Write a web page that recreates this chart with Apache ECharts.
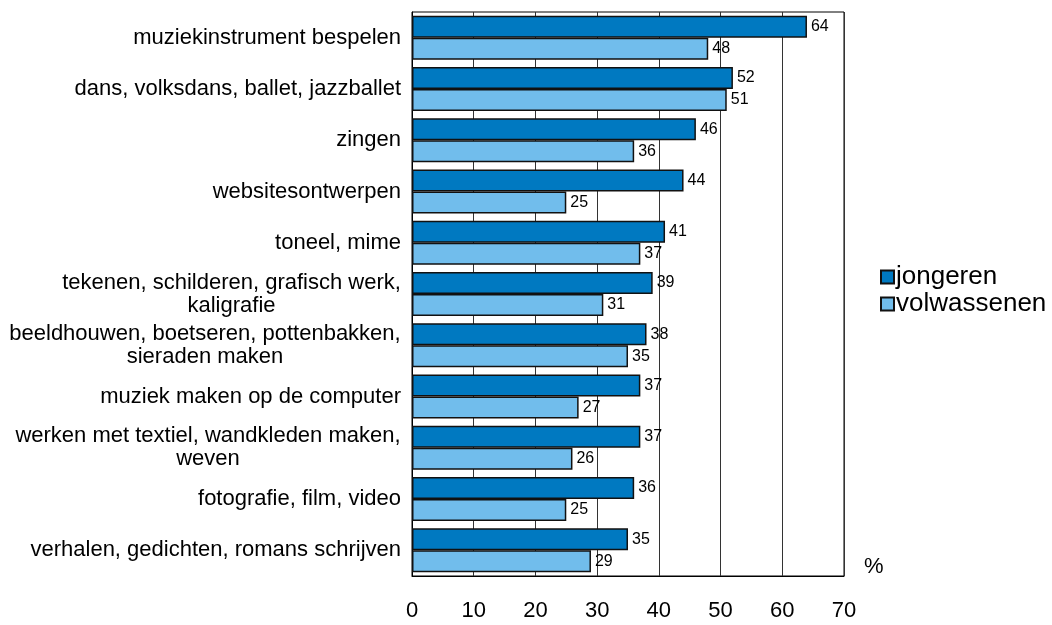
<!DOCTYPE html>
<html>
<head>
<meta charset="utf-8">
<script src="https://cdn.jsdelivr.net/npm/echarts@6/dist/echarts.min.js"></script>
<style>
  html, body { margin: 0; padding: 0; background: #fff; }
  #chart { width: 1052px; height: 625px; }
</style>
</head>
<body>
<div id="chart"></div>
<script>
// Activities, top to bottom
const categories = [
  'muziekinstrument bespelen',
  'dans, volksdans, ballet, jazzballet',
  'zingen',
  'websitesontwerpen',
  'toneel, mime',
  'tekenen, schilderen, grafisch werk,\nkaligrafie',
  'beeldhouwen, boetseren, pottenbakken,\nsieraden maken',
  'muziek maken op de computer',
  'werken met textiel, wandkleden maken,\nweven',
  'fotografie, film, video',
  'verhalen, gedichten, romans schrijven'
];
const seriesNames = ['jongeren', 'volwassenen'];
const jongeren = [64, 52, 46, 44, 41, 39, 38, 37, 37, 36, 35];
const volwassenen = [48, 51, 36, 25, 37, 31, 35, 27, 26, 25, 29];
const xTicks = [0, 10, 20, 30, 40, 50, 60, 70];

const FONT = '"Liberation Sans", Arial, sans-serif';
const LABEL_SIZE = 22;
const DARK = '#0079C1';
const LIGHT = '#71BDEC';

// Two-line category labels: every line gets the width of the widest line
// and is centred inside it, so the block stays right-aligned at the axis.
const measureCtx = document.createElement('canvas').getContext('2d');
measureCtx.font = LABEL_SIZE + 'px ' + FONT;
const labelRich = {};
const labelText = {};
categories.forEach(function (cat, i) {
  const lines = cat.split('\n');
  if (lines.length < 2) { labelText[cat] = cat; return; }
  const w = Math.ceil(Math.max.apply(null, lines.map(function (l) { return measureCtx.measureText(l).width; })));
  const key = 'c' + i;
  labelRich[key] = { width: w, align: 'center', fontFamily: FONT, fontSize: LABEL_SIZE, lineHeight: 23, color: '#000' };
  labelText[cat] = lines.map(function (l) { return '{' + key + '|' + l + '}'; }).join('\n');
});

const chart = echarts.init(document.getElementById('chart'), null, { renderer: 'canvas' });

function barSeries(name, values, color) {
  return {
    name: name,
    type: 'bar',
    data: values,
    barWidth: 22,
    barGap: '0%',
    itemStyle: { color: color, borderColor: '#111', borderWidth: 1.5 },
    label: {
      show: true,
      position: 'right',
      distance: 4,
      color: '#000',
      fontFamily: FONT,
      fontSize: 16
    }
  };
}

chart.setOption({
  animation: false,
  backgroundColor: '#fff',
  grid: {
    left: 412, top: 12, width: 432, height: 564,
    show: true, borderColor: '#000', borderWidth: 1, backgroundColor: 'transparent'
  },
  legend: {
    data: seriesNames,
    orient: 'vertical',
    left: 875,
    top: 259,
    itemWidth: 13,
    itemHeight: 13,
    itemGap: 1,
    icon: 'rect',
    textStyle: { fontFamily: FONT, fontSize: 26, color: '#000', padding: [0, 0, 0, -3] }
  },
  xAxis: {
    type: 'value',
    min: 0,
    max: 70,
    interval: 10,
    axisLine: { show: true, lineStyle: { color: '#000', width: 1 } },
    axisTick: { show: false },
    splitLine: { show: true, lineStyle: { color: '#333', width: 1 } },
    axisLabel: {
      margin: 24,
      fontFamily: FONT,
      fontSize: 22,
      color: '#000',
      formatter: function (v) { return xTicks.indexOf(v) >= 0 ? String(v) : ''; }
    }
  },
  yAxis: {
    type: 'category',
    inverse: true,
    data: categories,
    axisLine: { show: true, lineStyle: { color: '#000', width: 1 } },
    axisTick: { show: false },
    axisLabel: {
      margin: 11,
      fontFamily: FONT,
      fontSize: LABEL_SIZE,
      lineHeight: 23,
      color: '#000',
      formatter: function (v) { return labelText[v]; },
      rich: labelRich
    }
  },
  graphic: [{
    type: 'text',
    left: 864,
    top: 556,
    style: { text: '%', fontFamily: FONT, fontSize: 22, fill: '#000' }
  }],
  series: [
    barSeries(seriesNames[0], jongeren, DARK),
    barSeries(seriesNames[1], volwassenen, LIGHT)
  ]
});
</script>
</body>
</html>
